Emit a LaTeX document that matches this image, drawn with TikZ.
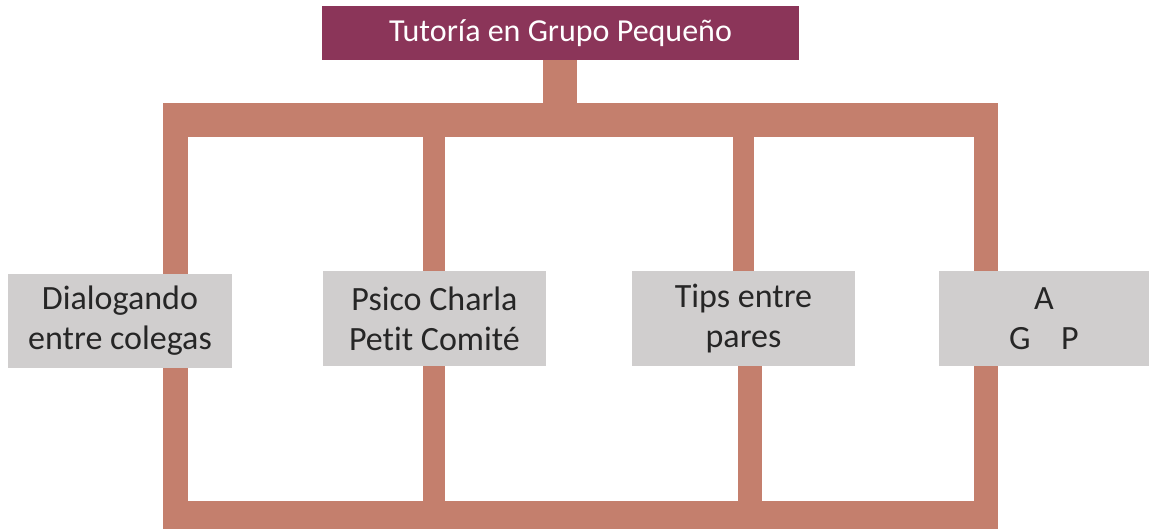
\documentclass[tikz,border=0pt]{standalone}
\usepackage{fontspec}
\setmainfont[Ligatures=NoCommon]{Carlito}
\usetikzlibrary{backgrounds}
\definecolor{topc}{HTML}{8B3559}
\definecolor{barc}{HTML}{C47F6D}
\definecolor{boxg}{HTML}{D0CECE}
\definecolor{txtc}{HTML}{262626}
\begin{document}
\begin{tikzpicture}[x=0.75pt,y=-0.75pt,
  lbl/.style={inner sep=0pt, align=center},
  topbox/.style={lbl, font=\fontsize{24}{30}\selectfont, fill=topc, text=white, minimum width=357.75pt, minimum height=40.5pt},
  graybox/.style={lbl, font=\fontsize{25.5}{30}\selectfont, fill=boxg, text=txtc, minimum height=71.25pt},
  bar/.style={fill=barc}]
\useasboundingbox (0,0) rectangle (1149,529);
\node[topbox] (top) at (560.5,33) {Tutoría en Grupo Pequeño};
\node[graybox, minimum width=168pt, minimum height=70.5pt] (dial) at (120,321) {Dialogando\\entre colegas};
\node[graybox, minimum width=167.25pt] (psico) at (434.5,318.5) {Psico Charla\\Petit Comité};
\node[graybox, minimum width=167.25pt] (tips) at (743.5,318.5) {Tips entre\\pares};
\node[graybox, minimum width=157.5pt] (agp) at (1044,318.5) {A\\G\hspace{0.9em}P};
\begin{scope}[on background layer]
  % stem
  \fill[bar] (543,60) rectangle (577,104);
  % top horizontal bar
  \fill[bar] (163,103) rectangle (998,137);
  % left and right verticals
  \fill[bar] (163,103) rectangle (188,529);
  \fill[bar] (974,103) rectangle (998,529);
  % bottom bar
  \fill[bar] (163,501) rectangle (998,529);
  % inner verticals
  \fill[bar] (423,136) rectangle (445,502);
  \fill[bar] (733,136) rectangle (754,272);
  \fill[bar] (738,365) rectangle (762,502);
\end{scope}
\end{tikzpicture}
\end{document}
